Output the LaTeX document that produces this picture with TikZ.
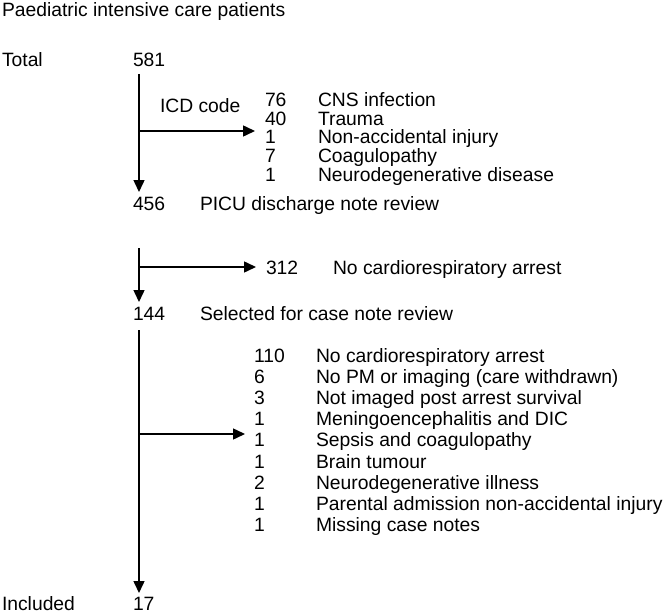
\documentclass[tikz,border=0pt]{standalone}
\usepackage{fontspec}
\setmainfont{Liberation Sans}
\usetikzlibrary{arrows.meta}
\begin{document}
\begin{tikzpicture}[x=1pt,y=-1pt,
  txt/.style={anchor=base west,inner sep=0pt,outer sep=0pt,font=\fontsize{19.3}{23}\selectfont},
  arr/.style={line width=1.5pt,-{Triangle[width=11pt,length=12pt]}},
  ln/.style={line width=1.5pt}]
\useasboundingbox (0,0) rectangle (664,615);
% title
\node[txt] (title) at (2,17) {Paediatric intensive care patients};
% totals
\node[txt] (total) at (2,67) {Total};
\node[txt] (n581) at (133,67) {581};
\node[txt] (icd) at (160,113) {ICD code};
\foreach \n/\l/\y [count=\i] in {76/CNS infection/107,40/Trauma/126,1/Non-accidental injury/144,7/Coagulopathy/163,1/Neurodegenerative disease/181}{
  \node[txt] (a\i) at (265,\y) {\n};
  \node[txt] (al\i) at (318,\y) {\l};
}
\node[txt] (n456) at (133,210) {456};
\node[txt] (picu) at (200,210) {PICU discharge note review};
\node[txt] (n312) at (266,274) {312};
\node[txt] (l312) at (333,274) {No cardiorespiratory arrest};
\node[txt] (n144) at (133,320) {144};
\node[txt] (sel) at (200,320) {Selected for case note review};
\foreach \n/\l [count=\i] in {110/No cardiorespiratory arrest,6/No PM or imaging (care withdrawn),3/Not imaged post arrest survival,1/Meningoencephalitis and DIC,1/Sepsis and coagulopathy,1/Brain tumour,2/Neurodegenerative illness,1/Parental admission non-accidental injury,1/Missing case notes}{
  \node[txt] (b\i) at (254,{362+21.2*(\i-1)}) {\n};
  \node[txt] (bl\i) at (316,{362+21.2*(\i-1)}) {\l};
}
\node[txt] (incl) at (2,610) {Included};
\node[txt] (n17) at (133,610) {17};
% connectors
\coordinate (v1s) at (139,74);
\coordinate (v1e) at (139,192);
\coordinate (h1s) at (139,131);
\coordinate (h1e) at (255,131);
\draw[arr] (v1s) -- (v1e);
\draw[arr] (h1s) -- (h1e);
\coordinate (v2s) at (139,248);
\coordinate (v2e) at (139,302);
\coordinate (h2s) at (139,267);
\coordinate (h2e) at (256,267);
\draw[arr] (v2s) -- (v2e);
\draw[arr] (h2s) -- (h2e);
\coordinate (v3s) at (139,330);
\coordinate (v3e) at (139,593);
\coordinate (h3s) at (139,434);
\coordinate (h3e) at (245,434);
\draw[arr] (v3s) -- (v3e);
\draw[arr] (h3s) -- (h3e);
\end{tikzpicture}
\end{document}
